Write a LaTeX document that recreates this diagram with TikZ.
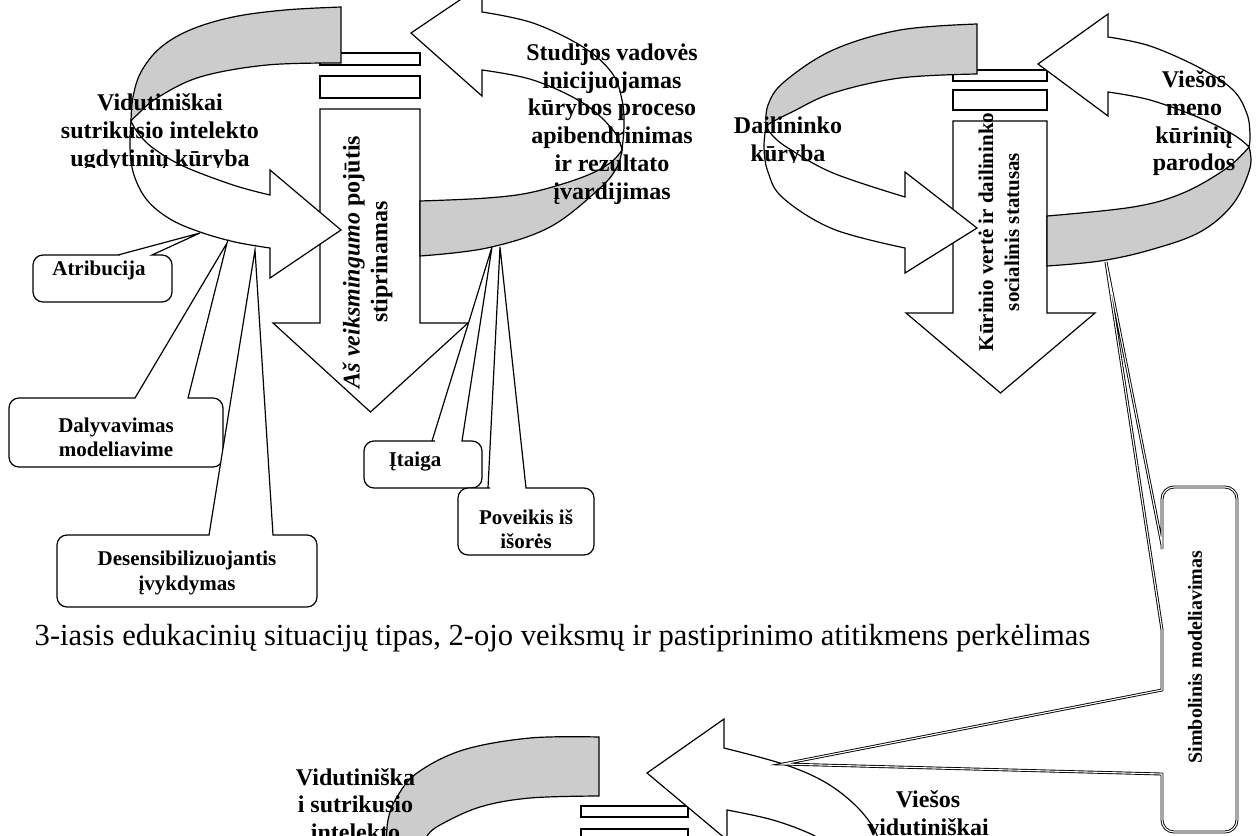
\documentclass[tikz,border=0pt]{standalone}
\usepackage{tikz}
\usepackage{fontspec}
\setmainfont{Liberation Serif}
\definecolor{bandgray}{RGB}{204,204,204}
\begin{document}
\begin{tikzpicture}[x=0.5pt,y=-0.5pt,
  outline/.style={draw=black, line width=0.6pt, line join=miter},
  whiteshape/.style={outline, fill=white},
  bandshade/.style={outline, fill=bandgray},
  callout/.style={outline, fill=white},
  symbcallout/.style={fill=white, draw=black, double=white, double distance=0.55pt, line width=0.45pt},
  lbltwelve/.style={font=\fontsize{12}{13.85}\selectfont\bfseries, align=center, inner sep=0pt},
  lblsmall/.style={font=\fontsize{10.5}{12.1}\selectfont\bfseries, align=center, inner sep=0pt},
  captext/.style={font=\fontsize{15.3}{18}\selectfont, inner sep=0pt},
]
\path[use as bounding box] (0,0) rectangle (1257,835);
\clip (0,0) rectangle (1257,835);
\fill[white] (0,0) rectangle (1257,835);

% ================= left loop with striped arrow =================
\path[whiteshape] (320,53) rectangle (420,65);
\path[whiteshape] (320,76) rectangle (420,98);
\path[whiteshape] (320,109) -- (420,109) -- (420,323) -- (468,323) -- (370.5,412)
  -- (273,323) -- (320,323) -- cycle;

% shaded back of the loop
\path[bandshade] (341,63) -- (341,7)
  -- plot[smooth,tension=0.6] coordinates {(341,7) (285,10) (233,17) (190,30) (160,48) (141,72) (133,97) (131,121)}
  -- plot[smooth,tension=0.6] coordinates {(131,121) (138,114) (157,98) (200,77) (267,65) (341,63)}
  -- cycle;
% front of the loop ending in the arrow head
\path[whiteshape] (131,121)
  -- plot[smooth,tension=0.6] coordinates {(131,121) (130,148) (134,175) (147,200) (170,219) (200,232) (235,242) (270,248)}
  -- (270,278) -- (341,230) -- (270,170) -- (270,195)
  -- plot[smooth,tension=0.6] coordinates {(270,195) (233,185) (183,166) (153,148) (138,133) (131,121)}
  -- cycle;
% upper right band with the returning arrow head
\path[whiteshape] (482,12)
  -- plot[smooth,tension=0.6] coordinates {(482,12) (533,23) (583,47) (612,73) (622,100) (624,125) (622,150)}
  -- plot[smooth,tension=0.6] coordinates {(622,150) (613,130) (583,103) (533,80) (482,70)}
  -- (482,96) -- (411,33) -- (482,-15) -- cycle;
% shaded lower right band
\path[bandshade] (622,150)
  -- plot[smooth,tension=0.6] coordinates {(622,150) (617,167) (600,188) (550,227) (487,248) (420,256)}
  -- (420,201)
  -- plot[smooth,tension=0.6] coordinates {(420,201) (487,198) (533,192) (583,177) (610,163) (622,150)}
  -- cycle;

% ================= right loop with striped arrow =================
\path[whiteshape] (953,70) rectangle (1047,81);
\path[whiteshape] (953,90) rectangle (1047,110);
\path[whiteshape] (953,121) -- (1047,121) -- (1047,313) -- (1095,313) -- (1000.5,393)
  -- (906,313) -- (953,313) -- cycle;

\path[bandshade] (977,74) -- (977,24)
  -- plot[smooth,tension=0.6] coordinates {(977,24) (900,30) (833,50) (784,82) (768,105) (766,126)}
  -- plot[smooth,tension=0.6] coordinates {(766,126) (774,121) (792,112) (833,93) (900,78) (977,74)}
  -- cycle;
\path[whiteshape] (766,126)
  -- plot[smooth,tension=0.6] coordinates {(766,126) (764,148) (768,172) (783,198) (833,229) (905,248)}
  -- (905,273) -- (977,228) -- (905,172) -- (905,197)
  -- plot[smooth,tension=0.6] coordinates {(905,197) (833,173) (788,148) (772,135) (766,126)}
  -- cycle;
\path[whiteshape] (1108,37)
  -- plot[smooth,tension=0.6] coordinates {(1108,37) (1150,46) (1200,68) (1233,90) (1247,114) (1250,135) (1249,147)}
  -- plot[smooth,tension=0.6] coordinates {(1249,147) (1234,135) (1200,118) (1150,100) (1108,92)}
  -- (1108,116) -- (1038,64) -- (1108,14) -- cycle;
\path[bandshade] (1249,147)
  -- plot[smooth,tension=0.6] coordinates {(1249,147) (1250,168) (1233,204) (1200,232) (1150,250) (1100,261) (1047,266)}
  -- (1047,216)
  -- plot[smooth,tension=0.6] coordinates {(1047,216) (1133,207) (1183,193) (1227,168) (1249,147)}
  -- cycle;

% ================= lower loop (running off the page) =================
\path[whiteshape] (581,806) rectangle (688,817);
\path[whiteshape] (581,829) rectangle (688,852);
\path[bandshade] (599,796) -- (599,737)
  -- plot[smooth,tension=0.6] coordinates {(599,737) (530,738) (463,750) (417,773) (397,797) (388,820) (386,850)}
  -- (420,850)
  -- plot[smooth,tension=0.6] coordinates {(420,850) (427,836) (440,825) (480,807) (530,798) (599,796)}
  -- cycle;
\path[whiteshape] (724,748)
  -- plot[smooth,tension=0.6] coordinates {(724,748) (783,764) (823,781) (853,803) (873,827) (882,850)}
  -- (835,850)
  -- plot[smooth,tension=0.6] coordinates {(835,850) (813,835) (773,820) (727,810)}
  -- (727,840) -- (647,773) -- (724,719) -- cycle;

% ================= callouts =================
\coordinate (tipAtr) at (200,233);
\coordinate (tipDal) at (227,243);
\coordinate (tipDes) at (255,250);
\coordinate (tipIta) at (492,247);
\coordinate (tipPov) at (500,247);
\coordinate (tipSimA) at (1106,262);
\coordinate (tipSimB) at (783,764);

\path[callout] (100,302) [rounded corners=5pt] -- (33,302) -- (33,255) -- (110,255)
  [sharp corners] -- (118,255) -- (tipAtr) -- (152,255) -- (160,255)
  [rounded corners=5pt] -- (172,255) -- (172,302) -- cycle;
\path[callout] (116,467) [rounded corners=5pt] -- (9,467) -- (9,398) -- (125,398)
  [sharp corners] -- (135,398) -- (tipDal) -- (188,398) -- (198,398)
  [rounded corners=5pt] -- (223,398) -- (223,467) -- cycle;
\path[callout] (187,607) [rounded corners=5pt] -- (57,607) -- (57,535) -- (199,535)
  [sharp corners] -- (209,535) -- (tipDes) -- (273,535) -- (283,535)
  [rounded corners=5pt] -- (317,535) -- (317,607) -- cycle;
\path[callout] (423,488) [rounded corners=5pt] -- (364,488) -- (364,441) -- (425,441)
  [sharp corners] -- (432,441) -- (tipIta) -- (462,441) -- (469,441)
  [rounded corners=5pt] -- (482,441) -- (482,488) -- cycle;
\path[callout] (526,555) [rounded corners=5pt] -- (458,555) -- (458,488) -- (480,488)
  [sharp corners] -- (488,488) -- (tipPov) -- (526,488) -- (534,488)
  [rounded corners=5pt] -- (594,488) -- (594,555) -- cycle;
\path[symbcallout] (1200,832) [rounded corners=6pt] -- (1237,832) -- (1237,487) -- (1162,487) -- (1162,537)
  [sharp corners] -- (1162,545) -- (tipSimA) -- (1162,630) -- (1162,690) -- (tipSimB) -- (1162,774) -- (1162,782)
  [rounded corners=6pt] -- (1162,832) -- cycle;

% ================= texts =================
\begin{scope}
  \clip (0,0) rectangle (340,167);
  \node[lbltwelve] (txtPupil) at (160,132.5) {Vidutiniškai\\sutrikusio intelekto\\ugdytinių kūryba};
\end{scope}
\node[lbltwelve] (txtTutor) at (612,124) {Studijos vadovės\\inicijuojamas\\kūrybos proceso\\apibendrinimas\\ir rezultato\\įvardijimas};
\node[lbltwelve, rotate=90] (txtAgency) at (367.5,262) {\textit{Aš veiksmingumo} pojūtis\\stiprinamas};

\begin{scope}
  \clip (700,0) rectangle (900,162);
  \node[lbltwelve] (txtArtist) at (788,141.5) {Dailininko\\kūryba};
\end{scope}
\node[lblsmall, font=\fontsize{10.5}{13}\selectfont\bfseries, rotate=90] (txtValue) at (999,232) {Kūrinio vertė ir dailininko\\socialinis statusas};
\node[lbltwelve] (txtExhib) at (1194,123.5) {Viešos\\meno\\kūrinių\\parodos};

\node[lbltwelve] (txtPupilB) at (355.5,804.5) {Vidutiniška\\i sutrikusio\\intelekto};
\node[lbltwelve] (txtPublic) at (928,813) {Viešos\\vidutiniškai};

\node[lblsmall] (lblAtr) at (99,270) {Atribucija};
\node[lblsmall] (lblDal) at (116,437.5) {Dalyvavimas\\modeliavime};
\node[lblsmall] (lblDes) at (187,573) {Desensibilizuojantis\\įvykdymas};
\node[lblsmall] (lblIta) at (415,462) {Įtaiga};
\node[lblsmall] (lblPov) at (526,529) {Poveikis iš\\išorės};
\node[font=\fontsize{10}{12}\selectfont\bfseries, inner sep=0pt, rotate=90] (lblSim) at (1195,657) {Simbolinis modeliavimas};

\node[captext, anchor=base] (caption) at (562.5,645) {3-iasis edukacinių situacijų tipas, 2-ojo veiksmų ir pastiprinimo atitikmens perkėlimas};
\end{tikzpicture}
\end{document}
